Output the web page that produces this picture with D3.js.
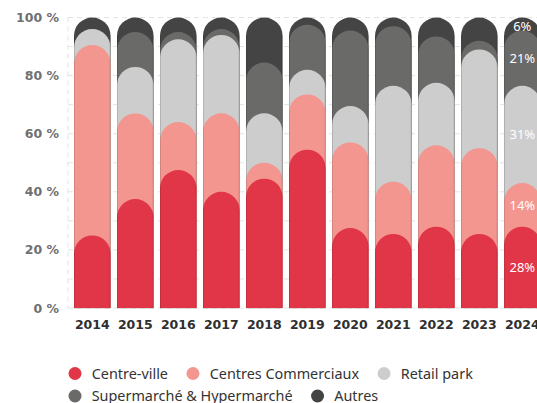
<!DOCTYPE html>
<html>
<head>
<meta charset="utf-8">
<script src="https://cdn.jsdelivr.net/npm/d3@7"></script>
<style>
  html, body { margin: 0; padding: 0; background: #fff; }
  svg { display: block; }
</style>
</head>
<body>
<svg></svg>
<script>
const years = [2014, 2015, 2016, 2017, 2018, 2019, 2020, 2021, 2022, 2023, 2024];
const centreVille = [25, 37.5, 47.5, 40, 44.5, 54.5, 27.5, 25.5, 28, 25.5, 28];
const centresCommerciaux = [65.5, 29.5, 16.5, 27, 5.5, 19, 29.5, 18, 28, 29.5, 15];
const retailPark = [5.5, 16, 28.5, 27, 17, 8.5, 12.5, 33, 21.5, 34, 33.5];
const superHyper = [0, 12, 2.5, 2, 17.5, 15.5, 26, 20.5, 16, 3, 19];
const autres = [4, 5, 5, 4, 15.5, 2.5, 4.5, 3, 6.5, 8, 4.5];
const seriesNames = ['Centre-ville', 'Centres Commerciaux', 'Retail park', 'Supermarché & Hypermarché', 'Autres'];
const colors = ['#e13548', '#f3968f', '#cdcdcd', '#6a6a68', '#444444'];
const labels2024 = ['28%', '14%', '31%', '21%', '6%'];
const yTicks = [0, 20, 40, 60, 80, 100];

const width = 537, height = 403;
const svg = d3.select('svg').attr('width', width).attr('height', height);

const rows = years.map((y, i) => ({
  year: y,
  s0: centreVille[i], s1: centresCommerciaux[i], s2: retailPark[i], s3: superHyper[i], s4: autres[i]
}));
const keys = ['s0', 's1', 's2', 's3', 's4'];
const stacked = d3.stack().keys(keys)(rows);

const x = d3.scaleBand().domain(years).range([74, 540.6]).paddingInner(0.15).paddingOuter(0);
const y = d3.scaleLinear().domain([0, 100]).range([308, 17.5]);

// grid
const grid = svg.append('g');
grid.selectAll('line.h').data(d3.range(0, 101, 10))
  .enter().append('line')
  .attr('x1', 68).attr('x2', width)
  .attr('y1', d => y(d)).attr('y2', d => y(d))
  .attr('stroke', '#e3e3e3').attr('stroke-width', 1)
  .attr('stroke-dasharray', '5,4');
grid.append('line')
  .attr('x1', 68).attr('x2', 68)
  .attr('y1', y(100)).attr('y2', y(0))
  .attr('stroke', '#e3e3e3').attr('stroke-dasharray', '5,4');

// y tick labels
svg.append('g').selectAll('text').data(yTicks)
  .enter().append('text')
  .attr('x', 59).attr('y', d => y(d))
  .attr('dy', '0.36em')
  .attr('text-anchor', 'end')
  .attr('font-family', 'DejaVu Sans')
  .attr('font-weight', 'bold')
  .attr('font-size', '12.5px')
  .attr('fill', '#707070')
  .text(d => d + ' %');

// rounded-top bar path
function capPath(x0, w, top) {
  const r = w / 2;
  const b = y(0);
  const t = y(top);
  if (b - t < r) {
    return `M${x0},${b}L${x0},${t}L${x0 + w},${t}L${x0 + w},${b}Z`;
  }
  return `M${x0},${b}L${x0},${t + r}A${r},${r} 0 0 1 ${x0 + w},${t + r}L${x0 + w},${b}Z`;
}

const bw = x.bandwidth();
const bars = svg.append('g');
// draw from top series down so lower ones overlay
for (let k = stacked.length - 1; k >= 0; k--) {
  bars.selectAll('path.s' + k).data(stacked[k])
    .enter().append('path')
    .attr('class', 's' + k)
    .attr('d', d => capPath(x(d.data.year), bw, d[1]))
    .attr('fill', colors[k]);
}
// faint side edges
bars.selectAll('path.edge').data(years)
  .enter().append('path')
  .attr('class', 'edge')
  .attr('d', d => `M${x(d) + 0.5},${y(100) + bw / 2}L${x(d) + 0.5},${y(0) + 0.5}L${x(d) + bw - 0.5},${y(0) + 0.5}L${x(d) + bw - 0.5},${y(100) + bw / 2}`)
  .attr('fill', 'none')
  .attr('stroke', '#000')
  .attr('stroke-opacity', 0.12)
  .attr('stroke-width', 1);

// 2024 value labels
const last = years.length - 1;
svg.append('g').selectAll('text').data(stacked)
  .enter().append('text')
  .attr('x', x(years[last]) + bw / 2)
  .attr('y', (s, k) => y((s[last][0] + s[last][1]) / 2) + (k === 4 ? 2 : 0))
  .attr('dy', '0.36em')
  .attr('text-anchor', 'middle')
  .attr('font-family', 'Noto Sans')
  .attr('font-size', '13px')
  .attr('fill', '#fff')
  .text((s, k) => labels2024[k]);

// x labels
svg.append('g').selectAll('text').data(years)
  .enter().append('text')
  .attr('x', d => x(d) + bw / 2)
  .attr('y', 324.5)
  .attr('dy', '0.36em')
  .attr('text-anchor', 'middle')
  .attr('font-family', 'DejaVu Sans')
  .attr('font-weight', 'bold')
  .attr('font-size', '12.5px')
  .attr('fill', '#2f2f2f')
  .text(d => d);

// legend, flow layout
const legendRows = [[0, 1, 2], [3, 4]];
const legendY = [373.5, 396];
legendRows.forEach((row, ri) => {
  let cx = 75;
  row.forEach(k => {
    const g = svg.append('g');
    g.append('circle').attr('cx', cx).attr('cy', legendY[ri]).attr('r', 6.5).attr('fill', colors[k]);
    const t = g.append('text')
      .attr('x', cx + 16.7).attr('y', legendY[ri])
      .attr('dy', '0.35em')
      .attr('font-family', 'Noto Sans')
      .attr('font-size', '14.4px')
      .attr('fill', '#333')
      .text(seriesNames[k]);
    cx = cx + 16.7 + t.node().getComputedTextLength() + 25;
  });
});
</script>
</body>
</html>
